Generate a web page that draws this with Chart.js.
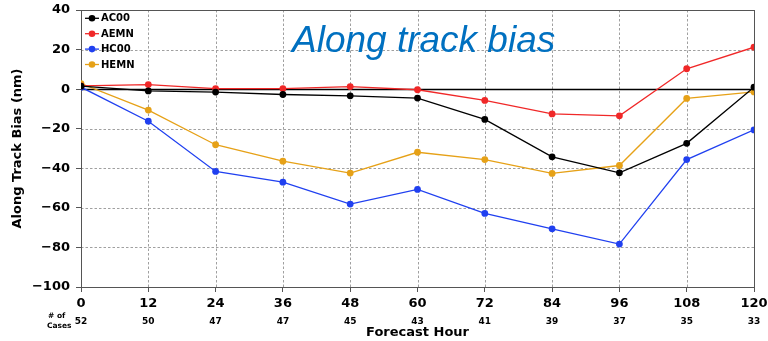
<!DOCTYPE html>
<html>
<head>
<meta charset="utf-8">
<script src="https://cdn.jsdelivr.net/npm/chart.js@4/dist/chart.umd.min.js"></script>
<style>
  html, body { margin: 0; padding: 0; background: #fff; }
  #wrap { width: 768px; height: 341px; }
</style>
</head>
<body>
<div id="wrap"><canvas id="c" width="768" height="341"></canvas></div>
<script>
// Forecast hours and number of verifying cases at each hour
const hours = [0, 12, 24, 36, 48, 60, 72, 84, 96, 108, 120];
const cases = [52, 50, 47, 47, 45, 43, 41, 39, 37, 35, 33];

// Along-track bias (nm) for each model
const ac00 = [1.5, -0.9, -1.5, -2.7, -3.4, -4.5, -15.3, -34.2, -42.3, -27.4, 1.0];
const aemn = [1.7, 2.3, 0.3, 0.3, 1.3, -0.3, -5.7, -12.5, -13.5, 10.3, 21.2];
const hc00 = [1.0, -16.2, -41.6, -47.0, -58.1, -50.7, -62.8, -70.6, -78.3, -35.6, -20.6];
const hemn = [2.8, -10.6, -28.1, -36.4, -42.4, -31.9, -35.6, -42.6, -38.6, -4.7, -1.4];

const yTicks = [40, 20, 0, -20, -40, -60, -80, -100];

const FONT = '"DejaVu Sans", sans-serif';

function series(label, values, color) {
  return {
    label,
    data: hours.map((h, i) => ({ x: h, y: values[i] })),
    borderColor: color,
    backgroundColor: color,
    borderWidth: 1.3,
    pointRadius: 3.4,
    pointBorderWidth: 0,
    pointHoverRadius: 3.4,
    tension: 0
  };
}

// Dashed grid, zero line, frame, legend, title and case counts
const decorations = {
  id: 'decorations',
  beforeDatasetsDraw(chart) {
    const { ctx, chartArea: a, scales: { x, y } } = chart;
    ctx.save();
    ctx.strokeStyle = '#a0a0a0';
    ctx.lineWidth = 1;
    ctx.setLineDash([2.5, 2]);
    hours.forEach(h => {
      const px = Math.round(x.getPixelForValue(h)) + 0.5;
      ctx.beginPath(); ctx.moveTo(px, a.top); ctx.lineTo(px, a.bottom); ctx.stroke();
    });
    yTicks.forEach(v => {
      if (v === 0) return;
      const py = Math.round(y.getPixelForValue(v)) + 0.5;
      ctx.beginPath(); ctx.moveTo(a.left, py); ctx.lineTo(a.right, py); ctx.stroke();
    });
    ctx.setLineDash([]);
    // zero reference line
    const y0 = Math.round(y.getPixelForValue(0)) + 0.5;
    ctx.strokeStyle = '#000';
    ctx.lineWidth = 1.4;
    ctx.beginPath(); ctx.moveTo(a.left, y0); ctx.lineTo(a.right, y0); ctx.stroke();
    // frame
    ctx.strokeStyle = '#555';
    ctx.lineWidth = 1;
    ctx.strokeRect(Math.round(a.left) + 0.5, Math.round(a.top) + 0.5,
                   Math.round(a.right - a.left), Math.round(a.bottom - a.top));
    ctx.restore();
  },
  afterDraw(chart) {
    const { ctx, chartArea: a, scales: { x } } = chart;
    ctx.save();

    // title inside the plot
    ctx.fillStyle = '#0070c0';
    ctx.font = 'italic 37px "Liberation Sans", Arial, sans-serif';
    ctx.textAlign = 'left';
    ctx.textBaseline = 'alphabetic';
    ctx.fillText('Along track bias', 292, 52);

    // legend
    chart.data.datasets.forEach((ds, i) => {
      const yy = 18.3 + 15.4 * i;
      ctx.strokeStyle = ds.borderColor;
      ctx.lineWidth = 1.3;
      ctx.beginPath(); ctx.moveTo(85, yy); ctx.lineTo(99, yy); ctx.stroke();
      ctx.fillStyle = ds.borderColor;
      ctx.beginPath(); ctx.arc(92, yy, 3.3, 0, Math.PI * 2); ctx.fill();
      ctx.fillStyle = '#000';
      ctx.font = 'bold 10px ' + FONT;
      ctx.textAlign = 'left';
      ctx.textBaseline = 'middle';
      ctx.fillText(ds.label, 101, yy + 0.5);
    });

    // number of cases under each hour
    ctx.fillStyle = '#000';
    ctx.font = 'bold 9px ' + FONT;
    ctx.textAlign = 'center';
    ctx.textBaseline = 'middle';
    hours.forEach((h, i) => {
      ctx.fillText(String(cases[i]), x.getPixelForValue(h), 321.5);
    });
    ctx.font = 'bold 7.5px ' + FONT;
    ctx.textAlign = 'left';
    ctx.fillText('# of', 48, 316.5);
    ctx.fillText('Cases', 47, 326);

    // axis titles
    ctx.font = 'bold 13px ' + FONT;
    ctx.textAlign = 'center';
    ctx.fillText('Forecast Hour', (a.left + a.right) / 2, 333);
    ctx.translate(18, (a.top + a.bottom) / 2);
    ctx.rotate(-Math.PI / 2);
    ctx.fillText('Along Track Bias (nm)', 0, 0);
    ctx.restore();
  }
};

new Chart(document.getElementById('c'), {
  type: 'line',
  data: {
    datasets: [
      series('AC00', ac00, '#000000'),
      series('AEMN', aemn, '#f02828'),
      series('HC00', hc00, '#2040f0'),
      series('HEMN', hemn, '#e6a117')
    ]
  },
  options: {
    responsive: false,
    animation: false,
    events: [],
    layout: { padding: { top: 10, right: 14, left: 0, bottom: 0 } },
    plugins: { legend: { display: false }, tooltip: { enabled: false }, title: { display: false } },
    scales: {
      x: {
        type: 'linear',
        min: 0, max: 120,
        afterFit(s) { s.height = 54; s.paddingLeft = 0; s.paddingRight = 0; },
        afterBuildTicks(s) { s.ticks = hours.map(v => ({ value: v })); },
        ticks: { color: '#000', font: { family: FONT, size: 13, weight: 'bold' }, padding: 4, maxRotation: 0 },
        grid: { drawOnChartArea: false, drawTicks: true, tickLength: 5, color: '#555' },
        border: { display: true, color: '#555', width: 1 }
      },
      y: {
        min: -100, max: 40,
        afterFit(s) { s.width = 81; s.paddingTop = 0; s.paddingBottom = 0; },
        afterBuildTicks(s) { s.ticks = yTicks.map(v => ({ value: v })); },
        ticks: {
          color: '#000',
          font: { family: FONT, size: 13, weight: 'bold' },
          padding: 6,
          callback: v => String(v).replace('-', '\u2212')
        },
        grid: { drawOnChartArea: false, drawTicks: true, tickLength: 5, color: '#555' },
        border: { display: true, color: '#555', width: 1 }
      }
    }
  },
  plugins: [decorations]
});
</script>
</body>
</html>
